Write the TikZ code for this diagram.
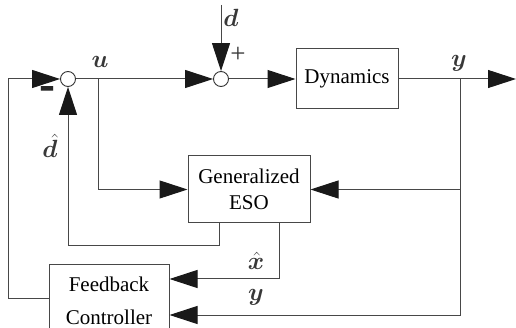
\documentclass[tikz,border=0pt]{standalone}
\usepackage{fontspec}
\usepackage{amsmath}
\usepackage{bm}
\setmainfont{Liberation Serif}
\usetikzlibrary{arrows.meta}
\begin{document}
\begin{tikzpicture}[x=1pt,y=-1pt,
  line/.style={draw=black!72,line width=1pt},
  arr/.style={line,-{Triangle[length=28pt,width=18pt,fill=black!90,color=black!90]}},
  sumc/.style={circle,draw=black!80,line width=0.9pt,minimum size=15pt,inner sep=0pt,fill=white},
  blockbox/.style={draw=black!72,line width=1pt,inner sep=0pt,align=center,font=\fontsize{21}{26}\selectfont},
  lbl/.style={inner sep=0pt,text=black!78,font=\fontsize{24}{26}\selectfont}]
\useasboundingbox (0,0) rectangle (516,328);
\clip (0,0) rectangle (516,328);
\fill[white] (0,0) rectangle (516,328);
% blocks
\node[sumc] (s1) at (68,79) {};
\node[sumc] (s2) at (221,79) {};
\node[blockbox,minimum width=102pt,minimum height=60pt] (dyn) at (347,79) {Dynamics};
\node[blockbox,minimum width=122pt,minimum height=67pt] (eso) at (249,189.5) {Generalized\\ESO};
\node[blockbox,minimum width=120pt,minimum height=72pt,font=\fontsize{21}{33}\selectfont] (fb) at (109,301) {Feedback\\Controller};
% coordinates
\coordinate (fbl) at (8,298);
\coordinate (ub) at (98,79);
\coordinate (dtop) at (221,5);
\coordinate (out) at (516,79);
\coordinate (yb) at (460,79);
\coordinate (ylow) at (460,315);
\coordinate (xh) at (279,279);
\coordinate (dh) at (219,246);
% connectors
\draw[arr] (fb.west |- fbl) -- (fbl) |- (s1.west);
\draw[arr] (s1.east) -- (s2.west);
\draw[arr] (ub) |- (eso.west);
\draw[arr] (dtop) -- (s2.north);
\draw[arr] (s2.east) -- (dyn.west);
\draw[arr] (dyn.east) -- (out);
\draw[arr] (yb) |- (eso.east);
\draw[arr] (yb) -- (ylow) -- (fb.east |- ylow);
\draw[arr] (eso.south -| xh) -- (xh) -- (fb.east |- xh);
\draw[arr] (eso.south -| dh) -- (dh) -| (s1.south);
% labels
\node[lbl] (lu) at (100,62) {$\bm{u}$};
\node[lbl] (ly) at (459,63) {$\bm{y}$};
\node[lbl] (ld) at (231,18) {$\bm{d}$};
\node[lbl,font=\fontsize{27}{28}\selectfont] (lp) at (238,55) {+};
\node[lbl,text=black!85] (lm) at (48,95) {\scalebox{1}[2.8]{\textbf{–}}};
\node[lbl] (ldh) at (50,146) {$\bm{\hat{d}}$};
\node[lbl] (lxh) at (256,261) {$\bm{\hat{x}}$};
\node[lbl] (ly2) at (256,297) {$\bm{y}$};
\end{tikzpicture}
\end{document}
